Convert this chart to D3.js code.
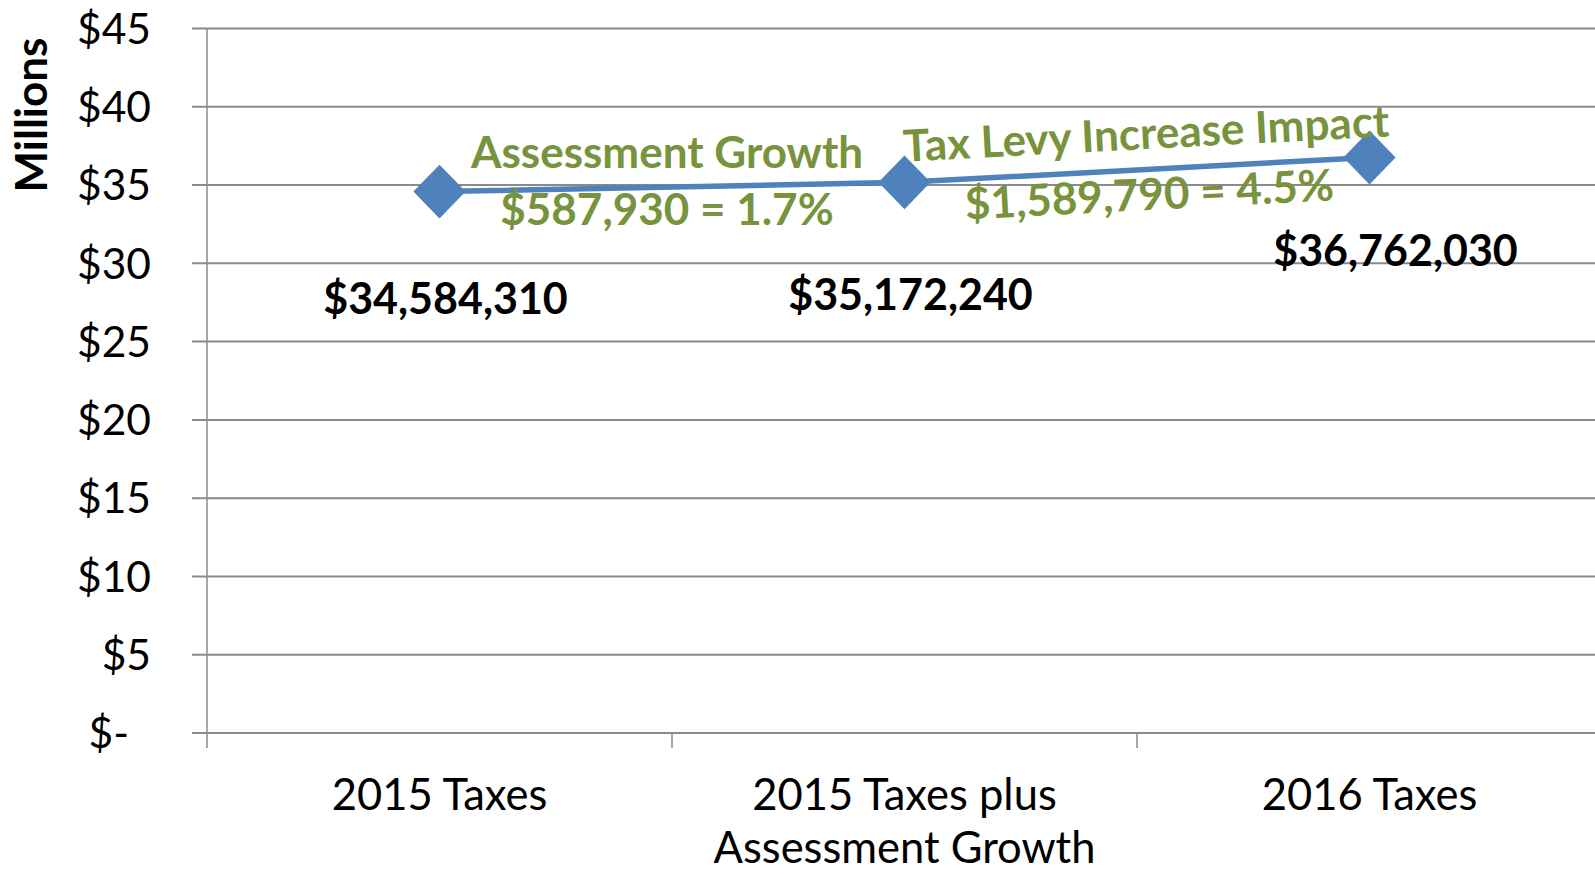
<!DOCTYPE html>
<html>
<head>
<meta charset="utf-8">
<script src="https://cdn.jsdelivr.net/npm/d3@7"></script>
<style>
  body { margin: 0; background: #fff; }
  svg { display: block; font-family: Lato, "Open Sans", sans-serif; }
</style>
</head>
<body>
<svg id="chart" width="1595" height="874"></svg>
<script>
// data
const categories = [["2015 Taxes"], ["2015 Taxes plus", "Assessment Growth"], ["2016 Taxes"]];
const values = [34584310, 35172240, 36762030];
const valueLabels = ["$34,584,310", "$35,172,240", "$36,762,030"];
const yTicks = [0, 5, 10, 15, 20, 25, 30, 35, 40, 45];
const notes = [
    ["Assessment Growth", "$587,930 = 1.7%"],
    ["Tax Levy Increase Impact", "$1,589,790 = 4.5%"]
];

const svg = d3.select("#chart");
const plotLeft = 207, plotRight = 1602, plotTop = 28.5, plotBottom = 733;
const green = "#77933C", blue = "#4F81BD", grid = "#8a8a8a";

const x = d3.scaleBand().domain(d3.range(categories.length)).range([plotLeft, plotRight]);
const y = d3.scaleLinear().domain([0, 45]).range([plotBottom, plotTop]);

// gridlines + y labels
svg.append("g").selectAll("line").data(yTicks).join("line")
    .attr("x1", plotLeft - 15).attr("x2", plotRight)
    .attr("y1", d => y(d)).attr("y2", d => y(d))
    .attr("stroke", grid).attr("stroke-width", 2);

svg.append("g").selectAll("text").data(yTicks).join("text")
    .attr("x", d => d === 0 ? 129 : 151)
    .attr("y", d => y(d))
    .attr("dy", "0.36em")
    .attr("text-anchor", "end")
    .attr("font-size", 42.5)
    .text(d => d === 0 ? "$-" : `$${d}`);

// axes
svg.append("line")
    .attr("x1", plotLeft).attr("x2", plotLeft).attr("y1", plotTop).attr("y2", plotBottom + 15)
    .attr("stroke", grid).attr("stroke-width", 1.5);
svg.append("g").selectAll("line").data(d3.range(1, categories.length + 1)).join("line")
    .attr("x1", i => plotLeft + i * x.bandwidth()).attr("x2", i => plotLeft + i * x.bandwidth())
    .attr("y1", plotBottom).attr("y2", plotBottom + 15)
    .attr("stroke", grid).attr("stroke-width", 1.5);

// category labels
const cat = svg.append("g").selectAll("text").data(categories).join("text")
    .attr("text-anchor", "middle")
    .attr("font-size", 43.5)
    .attr("transform", (d, i) => `translate(${x(i) + x.bandwidth() / 2},810)`);
cat.selectAll("tspan").data(d => d).join("tspan")
    .attr("x", 0).attr("y", (d, i) => i * 53)
    .text(d => d);

// axis title
svg.append("text")
    .attr("transform", "translate(47,115) rotate(-90)")
    .attr("text-anchor", "middle")
    .attr("font-size", 44).attr("font-weight", "bold")
    .text("Millions");

// line + markers
const cx = i => x(i) + x.bandwidth() / 2;
svg.append("path")
    .attr("d", d3.line().x((d, i) => cx(i)).y(d => y(d / 1e6))(values))
    .attr("fill", "none").attr("stroke", blue).attr("stroke-width", 5.5);

svg.append("g").selectAll("path").data(values).join("path")
    .attr("d", d3.symbol(d3.symbolSquare, 1450)())
    .attr("transform", (d, i) => `translate(${cx(i)},${y(d / 1e6)}) scale(0.97,1) rotate(45)`)
    .attr("fill", blue);

// value labels (hand-placed in the original)
const labelDx = [6, 6, 26], labelY = [314, 310, 266];
svg.append("g").selectAll("text").data(valueLabels).join("text")
    .attr("x", (d, i) => cx(i) + labelDx[i])
    .attr("y", (d, i) => labelY[i])
    .attr("text-anchor", "middle")
    .attr("font-size", 43).attr("font-weight", "bold")
    .text(d => d);

// change annotations
const noteAt = [{x: 667, y: 168, r: 0, gap: 57}, {x: 1147, y: 149, r: -3, gap: 61}];
const note = svg.append("g").selectAll("text").data(notes).join("text")
    .attr("transform", (d, i) => `translate(${noteAt[i].x},${noteAt[i].y}) rotate(${noteAt[i].r})`)
    .attr("text-anchor", "middle")
    .attr("fill", green)
    .attr("font-size", 44).attr("font-weight", "bold");
note.selectAll("tspan").data((d, i) => d.map(t => [t, noteAt[i].gap])).join("tspan")
    .attr("x", 0).attr("y", (d, i) => i * d[1])
    .text(d => d[0]);
</script>
</body>
</html>
